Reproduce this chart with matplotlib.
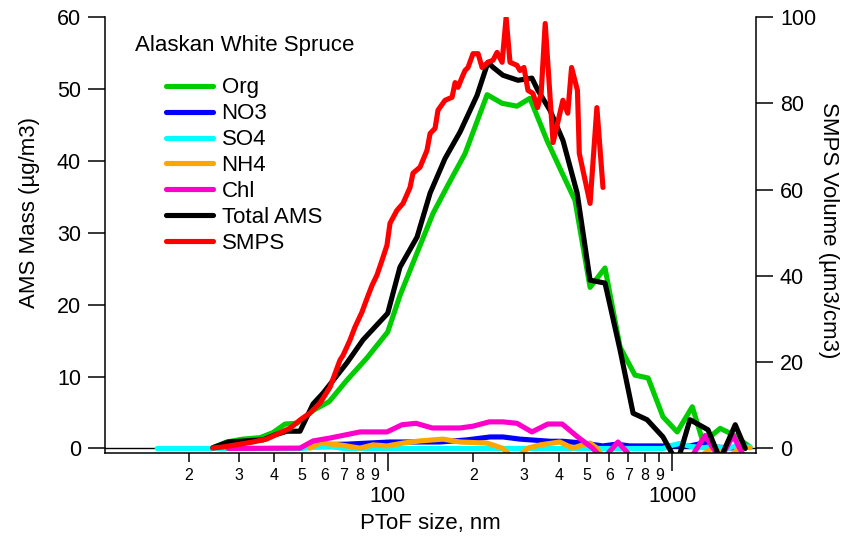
import matplotlib
matplotlib.use("Agg")
import matplotlib.pyplot as plt
from matplotlib.ticker import FixedLocator, FixedFormatter

plt.rcParams['font.family'] = ['Liberation Sans', 'DejaVu Sans']

# ---- PToF size distributions (AMS species, ug/m3) ----
org_size = [24.3, 27.2, 31.0, 35.6, 39.5, 43.6, 48.0, 54.7, 62.2, 71.9, 84.6, 100, 110.5,
            126.8, 144.3, 164.2, 186.9, 223.5, 252.3, 284.5, 316, 363, 410, 455, 514, 580,
            655, 739, 822, 927, 1040, 1175, 1283, 1472, 1635, 1875]
org_mass = [0.1, 0.9, 1.3, 1.5, 2.2, 3.4, 3.5, 5.3, 6.5, 9.5, 12.6, 16.2, 21.3,
            27.2, 32.7, 36.9, 41.0, 49.2, 48.0, 47.6, 48.7, 42.8, 38.3, 34.5, 22.4, 25.1,
            14.1, 10.2, 9.8, 4.4, 2.3, 5.8, 0.8, 2.8, 1.9, 0.2]

no3_size = [49.2, 53.3, 71.9, 101.9, 152.5, 190.3, 228.9, 254, 291.5, 372, 412.5, 485,
            570, 637, 708, 927, 1153, 1283, 1390, 1690]
no3_mass = [0.0, 0.5, 0.6, 0.9, 0.9, 1.2, 1.6, 1.6, 1.3, 1.0, 1.0, 0.75,
            0.35, 0.6, 0.35, 0.35, 0.35, 0.75, 0.2, 0.05]

so4_size = [15.5, 24.3, 49.2, 54.7, 62.7, 69.7, 100, 300, 600, 927, 1000, 1061, 1153,
            1283, 1390, 1556, 1690, 1875]
so4_mass = [0.0, 0.0, 0.0, 0.15, 0.3, 0.0, 0.0, 0.0, 0.0, 0.0, 0.45, 0.7, 0.3,
            0.1, 0.3, 0.0, 0.4, 0.2]

nh4_size = [53.3, 57.8, 68, 79.9, 88.8, 99.4, 113.2, 129.9, 156.4, 179.5, 223.4, 252.3,
            280, 311, 343, 402.5, 446, 485, 514, 543, 580, 1215, 1390, 1556, 1740, 1875]
nh4_mass = [0.05, 0.75, 0.5, 0.05, 0.5, 0.35, 0.75, 1.05, 1.3, 0.9, 0.75, 0.05,
            -1.5, 0.05, 0.5, 0.9, 0.05, 0.5, 0.75, 0.05, -1.5, -1.5, 0.2, -1.5, 0.3, 0.1]

chl_size = [27.5, 49.2, 54.7, 62.7, 79.9, 99.4, 112.3, 125.7, 143.3, 179.5, 199.4, 227.4,
            254, 284.5, 321, 365, 410, 465, 524, 570, 644, 728, 1153, 1303, 1472, 1635, 1803]
chl_mass = [0.0, 0.05, 1.05, 1.45, 2.3, 2.3, 3.3, 3.5, 2.85, 2.85, 3.1, 3.7,
            3.7, 3.5, 2.3, 3.4, 3.4, 1.6, 0.05, -1.5, 0.9, -1.5, -1.5, 1.8, -1.5, 1.8, -1.5]

total_size = [24.3, 27.5, 30.3, 36.5, 40.2, 44.3, 49.2, 54.7, 59.3, 71.9, 81.9, 100, 110.4,
              126.8, 140.9, 158.9, 179.5, 206, 225, 234.5, 254, 287, 321, 337, 372, 413,
              463, 514, 580, 655, 728, 815, 927, 1040, 1153, 1334, 1472, 1663, 1803]
total_mass = [0.1, 0.9, 1.0, 1.2, 1.9, 2.4, 2.4, 6.2, 7.7, 11.9, 15.1, 18.8, 25.2,
              29.4, 35.5, 40.3, 44.0, 49.1, 53.7, 53.0, 51.9, 51.2, 51.5, 49.8, 47.0, 42.8,
              35.5, 23.4, 23.0, 13.7, 4.9, 4.0, 1.6, -2.0, 4.0, 2.6, -1.5, 3.3, 0.0]

# ---- SMPS volume distribution (um3/cm3) ----
smps_size = [24.3, 26.4, 30.3, 33.6, 37.6, 41.8, 45.4, 49.2, 53.3, 57.8, 62.7, 68.0, 69.7,
             73.7, 76.7, 81.2, 84.6, 88.1, 91.7, 95.5, 99.4, 101.9, 107.8, 113.2, 119.8,
             122.7, 129.9, 137.4, 140.9, 146.7, 150.2, 159.0, 168.3, 172.5, 176.6, 182.4,
             186.9, 191.5, 199.4, 207.7, 214.6, 225, 234.5, 242.2, 252.3, 260.6, 268.9,
             284.5, 291.5, 301, 311, 323.6, 336, 346, 357.5, 381, 412.5, 429, 442.5, 464,
             471, 514, 543, 570.5]
smps_vol = [0.1, 0.35, 1.0, 1.5, 2.2, 3.6, 4.7, 6.6, 8.2, 10.5, 14.2, 20.5, 21.6,
            25.1, 28.1, 31.6, 34.8, 37.8, 40.2, 43.6, 47.1, 52.2, 55.2, 56.8, 60.5,
            63.8, 65.2, 69.1, 73.0, 74.2, 78.4, 80.7, 81.4, 84.8, 83.7, 86.0,
            87.6, 88.3, 91.5, 91.5, 88.3, 89.5, 90.0, 91.8, 89.5, 99.9, 89.5,
            88.8, 87.6, 88.3, 83.0, 82.3, 79.0, 82.3, 98.5, 70.9, 80.7, 77.7, 88.3, 83.0,
            68.4, 56.8, 79.0, 60.5]

series_names = ["Org", "NO3", "SO4", "NH4", "Chl", "Total AMS", "SMPS"]
series_colors = ["#00CC00", "#0000FF", "#00FFFF", "#FFA500", "#FF00CC", "#000000", "#FF0000"]

minor_ticks = [20, 30, 40, 50, 60, 70, 80, 90, 200, 300, 400, 500, 600, 700, 800, 900]
minor_labels = ["2", "3", "4", "5", "6", "7", "8", "9", "2", "3", "4", "5", "6", "7", "8", "9"]
major_ticks = [100, 1000]
major_labels = ["100", "1000"]

W, H = 850, 537
fig = plt.figure(figsize=(W / 100, H / 100), dpi=100)
L, R, T, B = 105, 756, 17, 453
ax = fig.add_axes([L / W, (H - B) / H, (R - L) / W, (B - T) / H])
ax2 = ax.twinx()

lw = 3.7
line_kw = dict(lw=lw, solid_capstyle='round', solid_joinstyle='round')
ax.axhline(0, color='black', lw=1.0, zorder=0.5)

amsdata = [(org_size, org_mass), (no3_size, no3_mass), (so4_size, so4_mass),
           (nh4_size, nh4_mass), (chl_size, chl_mass), (total_size, total_mass)]
handles = []
for (xs, ys), name, col in zip(amsdata, series_names[:6], series_colors[:6]):
    h, = ax.plot(xs, ys, color=col, label=name, **line_kw)
    handles.append(h)
h, = ax2.plot(smps_size, smps_vol, color=series_colors[6], label=series_names[6], **line_kw)
handles.append(h)

ax.set_xscale('log')
ax.set_xlim(10.16, 1967)
ax.set_ylim(-0.63, 60)
ax2.set_ylim(-1.05, 100)

ax.xaxis.set_major_locator(FixedLocator(major_ticks))
ax.xaxis.set_major_formatter(FixedFormatter(major_labels))
ax.xaxis.set_minor_locator(FixedLocator(minor_ticks))
ax.xaxis.set_minor_formatter(FixedFormatter(minor_labels))
ax.set_yticks([0, 10, 20, 30, 40, 50, 60])
ax2.set_yticks([0, 20, 40, 60, 80, 100])

for a in (ax, ax2):
    a.spines['top'].set_visible(False)
    for s in a.spines.values():
        s.set_linewidth(1.1)
ax2.spines['left'].set_visible(False)
ax2.spines['bottom'].set_visible(False)
ax.spines['right'].set_visible(False)

ax.tick_params(axis='y', which='major', direction='out', length=12.2, width=1.1,
               labelsize=15.5, pad=5)
ax2.tick_params(axis='y', which='major', direction='out', length=12.2, width=1.1,
                labelsize=15.5, pad=5)
ax.tick_params(axis='x', which='major', direction='out', length=12.6, width=1.1,
               labelsize=15.5, pad=11.5)
ax.tick_params(axis='x', which='minor', direction='out', length=6.5, width=1.1,
               labelsize=11.5, pad=4)

ax.set_xlabel("PToF size, nm", fontsize=16)
ax.xaxis.set_label_coords(0.5, (B - 523) / (B - T))
ax.xaxis.label.set_va('center')
ax.set_ylabel("AMS Mass (µg/m3)", fontsize=16)
ax.yaxis.label.set(va='center', ha='center', rotation_mode='default')
ax.yaxis.set_label_coords((30 - L) / (R - L), (B - 212) / (B - T))
ax2.set_ylabel("SMPS Volume (µm3/cm3)", fontsize=16, rotation=270)
ax2.yaxis.label.set(va='center', ha='center', rotation_mode='default')
ax2.yaxis.set_label_coords((828 - L) / (R - L), (B - 230) / (B - T))

ax2.text((135 - L) / (R - L), (B - 45) / (B - T), "Alaskan White Spruce",
         transform=ax2.transAxes, fontsize=16, ha='left', va='center')
ax2.legend(handles=handles, labels=series_names, loc='upper left',
           bbox_to_anchor=((166 - L) / (R - L), (B - 77.5) / (B - T)),
           frameon=False, fontsize=16, handlelength=2.1, handletextpad=0.4,
           labelspacing=0.22, borderpad=0, borderaxespad=0)

fig.savefig("out.png", dpi=100)
